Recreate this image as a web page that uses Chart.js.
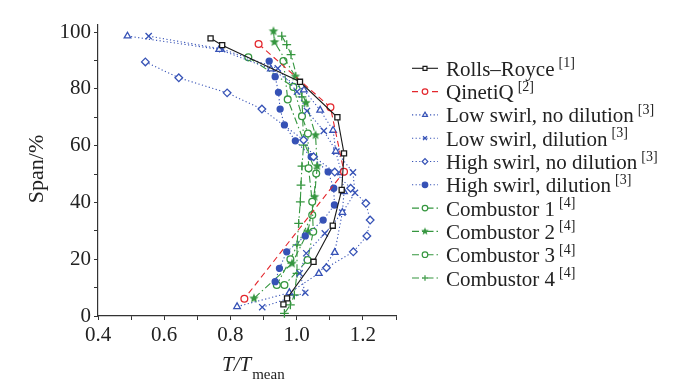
<!DOCTYPE html>
<html><head><meta charset="utf-8">
<script src="https://cdn.jsdelivr.net/npm/chart.js@4/dist/chart.umd.min.js"></script>
<style>html,body{margin:0;padding:0;background:#fff}</style>
</head><body>
<canvas id="c" width="694" height="390"></canvas>
<script>
// ---- data (T/Tmean, span %) ----
const rrT = [0.740,0.775,1.010,1.123,1.143,1.136,1.109,1.051,0.971,0.960];
const rrSpan = [97.8,95.4,82.5,70.0,57.3,44.4,31.8,19.1,6.2,4.1];
const qqT = [0.885,1.102,1.143,0.842];
const qqSpan = [95.8,73.5,50.8,6.1];
const lsndT = [0.489,0.766,0.922,1.022,1.071,1.110,1.118,1.135,1.143,1.138,1.115,1.067,0.978,0.820];
const lsndSpan = [98.6,93.9,87.0,79.6,72.5,65.4,58.0,50.5,43.8,36.5,22.4,15.0,8.2,3.3];
const lsdT = [0.553,0.775,0.943,1.001,1.031,1.082,1.120,1.170,1.176,1.138,1.085,1.029,1.009,1.026,0.896];
const lsdSpan = [98.6,94.0,87.2,79.0,72.2,65.2,57.9,50.6,43.4,36.4,29.1,22.1,15.0,8.2,3.1];
const hsndT = [0.543,0.644,0.790,0.895,1.021,1.051,1.115,1.163,1.209,1.222,1.212,1.171,1.090];
const hsndSpan = [89.5,83.9,78.6,72.9,62.0,56.1,50.7,45.0,39.7,33.8,28.2,22.6,17.0];
const hsdT = [0.917,0.935,0.945,0.950,0.963,0.996,1.044,1.095,1.112,1.114,1.080,1.026,0.970,0.948,0.935];
const hsdSpan = [89.8,84.3,78.8,72.9,67.3,61.7,56.1,50.8,45.0,39.1,33.8,28.2,22.6,16.8,12.1];
const c1T = [0.854,0.990,1.016,1.034,1.036,1.047,1.050,1.033,0.963];
const c1Span = [91.1,80.7,70.4,64.3,52.0,40.2,29.7,19.7,10.9];
const c2T = [0.930,0.933,0.996,1.028,1.057,1.062,1.054,1.034,0.986,0.871];
const c2Span = [100.3,96.5,84.4,75.1,63.7,52.8,42.0,29.7,18.5,6.2];
const c3T = [0.960,0.973,1.059,1.047,0.981,0.940];
const c3Span = [89.8,76.3,50.2,35.6,20.0,10.9];
const c4T = [0.955,0.970,0.983,1.016,1.021,1.016,1.013,1.011,1.006,1.001,1.001,0.993,0.981,0.963];
const c4Span = [98.6,95.6,92.1,77.2,60.2,52.8,46.1,40.2,32.6,25.0,15.0,7.4,3.9,0.9];
const xTicksLabelled = ['0.4','0.6','0.8','1.0','1.2'];
const yTicksLabelled = ['0','20','40','60','80','100'];
const seriesNames = ['Rolls\u2013Royce','QinetiQ','Low swirl, no dilution','Low swirl, dilution','High swirl, no dilution','High swirl, dilution','Combustor 1','Combustor 2','Combustor 3','Combustor 4'];
const seriesRefs = ['[1]','[2]','[3]','[3]','[3]','[3]','[4]','[4]','[4]','[4]'];

const BLACK='#1a1a1a', RED='#e3262c', BLUE='#3652b6', GREEN='#35963f';
function pts(xs, ys){ return xs.map((v,i)=>({x:v,y:ys[i]})); }
function starImg(color, r){
  const c=document.createElement('canvas'); const s=Math.ceil(r*2+2); c.width=c.height=s;
  const g=c.getContext('2d'); g.fillStyle=color; g.beginPath();
  for(let i=0;i<10;i++){const a=-Math.PI/2+i*Math.PI/5; const rr=i%2?r*0.45:r; g.lineTo(s/2+rr*Math.cos(a), s/2+rr*Math.sin(a));}
  g.closePath(); g.fill(); return c;
}
const starBig = starImg(GREEN, 5), starSmall = starImg(GREEN, 4);
const dotted=[1.2,2.4], dashed=[6,4], dashdot=[7,3,1.5,3];
function ds(label, xs, ys, color, dash, style, fill, r){
  return {label, data: pts(xs,ys), borderColor: color, borderWidth: 1.1, borderDash: dash,
    pointStyle: style, pointRadius: r||3.4, pointBorderColor: color, pointBorderWidth: 1.3,
    pointBackgroundColor: fill, showLine: true, tension: 0, clip: false, fill: false};
}
const datasets = [
  ds(seriesNames[0], rrT, rrSpan, BLACK, [], 'rect', '#fff', 3.6),
  ds(seriesNames[1], qqT, qqSpan, RED, dashed, 'circle', '#fff'),
  ds(seriesNames[2], lsndT, lsndSpan, BLUE, dotted, 'triangle', '#fff', 3.8),
  ds(seriesNames[3], lsdT, lsdSpan, BLUE, dotted, 'crossRot', BLUE, 4.4),
  ds(seriesNames[4], hsndT, hsndSpan, BLUE, dotted, 'rectRot', '#fff', 3.8),
  ds(seriesNames[5], hsdT, hsdSpan, BLUE, dotted, 'circle', BLUE, 3.0),
  ds(seriesNames[6], c1T, c1Span, GREEN, dashdot, 'circle', '#fff'),
  ds(seriesNames[7], c2T, c2Span, GREEN, dashdot, starBig, GREEN),
  ds(seriesNames[8], c3T, c3Span, GREEN, dashdot, 'circle', '#fff'),
  ds(seriesNames[9], c4T, c4Span, GREEN, dashdot, 'cross', GREEN, 4.4)
];

const FONT='"Liberation Serif", "Times New Roman", serif';
const decor = {
  id:'decor',
  afterDraw(chart){
    const ctx=chart.ctx; ctx.save();
    ctx.fillStyle='#222';
    ctx.save(); ctx.translate(37,169); ctx.rotate(-Math.PI/2);
    ctx.font='22px '+FONT; ctx.textAlign='center'; ctx.textBaseline='middle';
    ctx.fillText('Span/%',0,0); ctx.restore();
    ctx.textAlign='left'; ctx.textBaseline='alphabetic';
    ctx.font='italic 21px '+FONT; ctx.fillText('T/T',222,371);
    const w=ctx.measureText('T/T').width;
    ctx.font='15px '+FONT; ctx.fillText('mean',222+w+1,379);
    const x0=412, x1=438, xm=425, tx=446;
    chart.data.datasets.forEach((d,i)=>{
      const yc=68.3+i*23.3;
      ctx.save();
      ctx.strokeStyle=d.borderColor; ctx.lineWidth=1.1; ctx.setLineDash(d.borderDash||[]);
      ctx.beginPath(); ctx.moveTo(x0,yc); ctx.lineTo(x1,yc); ctx.stroke();
      ctx.setLineDash([]);
      ctx.fillStyle=d.pointBackgroundColor; ctx.strokeStyle=d.pointBorderColor; ctx.lineWidth=1.2;
      let ps=d.pointStyle; if(ps===starBig) ps=starSmall;
      Chart.helpers.drawPoint(ctx,{pointStyle:ps, radius:2.8, borderWidth:1.2, rotation:0}, xm, yc);
      ctx.restore();
      ctx.fillStyle='#222';
      ctx.font='21px '+FONT; ctx.textAlign='left'; ctx.textBaseline='alphabetic';
      ctx.fillText(d.label, tx, yc+7.5);
      const tw=ctx.measureText(d.label).width;
      ctx.font='14px '+FONT; ctx.fillText(seriesRefs[i], tx+tw+4, yc-1);
    });
    ctx.restore();
  }
};

new Chart(document.getElementById('c'), {
  type:'scatter',
  data:{datasets},
  options:{
    responsive:false, devicePixelRatio:1, animation:false,
    layout:{padding:{left:0, top:25, right:298, bottom:0}},
    plugins:{legend:{display:false}, tooltip:{enabled:false}},
    scales:{
      x:{type:'linear', min:0.4, max:1.3,
        afterFit(s){ s.height=74; },
        border:{display:true, color:'#333', width:1.2},
        grid:{display:true, drawOnChartArea:false, drawTicks:true, tickLength:4, color:'#333', lineWidth:1},
        ticks:{stepSize:0.1, includeBounds:false, padding:3, color:'#222', font:{family:FONT, size:21}, maxRotation:0, autoSkip:false,
          callback(v){ const k=Math.round(v*10); const s=(k/10).toFixed(1); return xTicksLabelled.includes(s)?s:''; }}
      },
      y:{type:'linear', min:0, max:102.5,
        afterFit(s){ s.width=98; },
        border:{display:true, color:'#333', width:1.2},
        grid:{display:true, drawOnChartArea:false, drawTicks:true, tickLength:4, color:'#333', lineWidth:1},
        ticks:{stepSize:10, includeBounds:false, padding:3, color:'#222', font:{family:FONT, size:21}, autoSkip:false,
          callback(v){ const s=String(Math.round(v)); return yTicksLabelled.includes(s)?s:''; }}
      }
    }
  },
  plugins:[decor]
});
</script>
</body></html>
